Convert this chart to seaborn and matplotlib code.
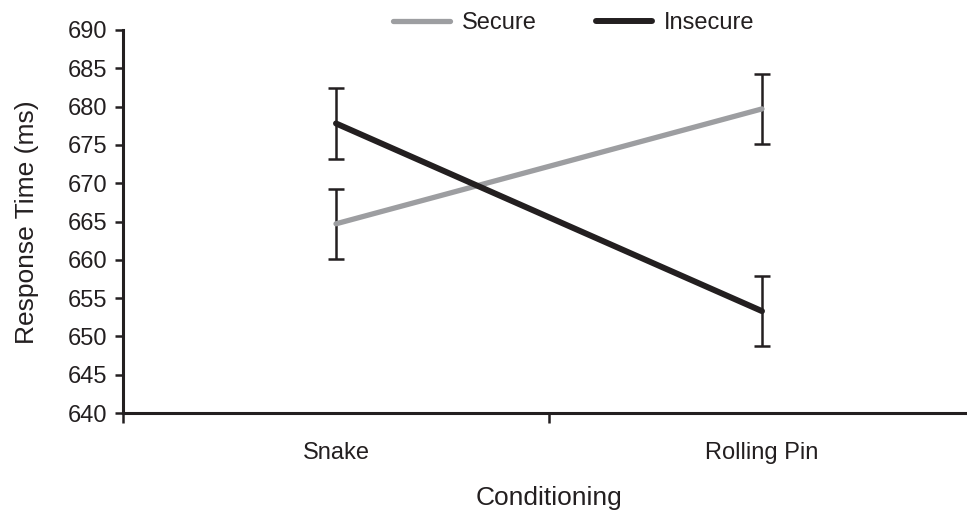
import matplotlib
matplotlib.use("Agg")
import matplotlib.pyplot as plt
import seaborn as sns
import pandas as pd
import numpy as np

categories = ["Snake", "Rolling Pin"]
groups = ["Secure", "Insecure"]
secure_means = [664.7, 679.7]
insecure_means = [677.8, 653.3]
secure_err = [4.6, 4.6]
insecure_err = [4.6, 4.6]
y_ticks = [640, 645, 650, 655, 660, 665, 670, 675, 680, 685, 690]

sns.set_style("white")
plt.rcParams["font.family"] = ["Liberation Sans", "DejaVu Sans"]

df = pd.DataFrame({
    "Conditioning": categories * 2,
    "RT": secure_means + insecure_means,
    "Group": [groups[0]] * 2 + [groups[1]] * 2,
})
pos = {c: i for i, c in enumerate(categories)}
df["x"] = df["Conditioning"].map(pos)

colors = {"Secure": "#9d9ea1", "Insecure": "#231f20"}
dark = "#231f20"

fig = plt.figure(figsize=(9.67, 5.14), dpi=100)
ax = fig.add_axes([123 / 967, 1 - 413 / 514, (975 - 123) / 967, (413 - 30) / 514])

for g, lw in [("Secure", 3.8), ("Insecure", 4.3)]:
    sub = df[df["Group"] == g]
    sns.lineplot(data=sub, x="x", y="RT", color=colors[g], lw=lw, ax=ax,
                 label=g, legend=False, solid_capstyle="round", zorder=3)

for means, errs in [(secure_means, secure_err), (insecure_means, insecure_err)]:
    ax.errorbar([pos[c] for c in categories], means, yerr=errs, fmt="none",
                ecolor=dark, elinewidth=1.8, capsize=6, capthick=1.8, zorder=2)

ax.set_xlim(-0.5, 1.5)
ax.set_ylim(640, 690)
ax.set_yticks(y_ticks)
ax.set_yticklabels([str(t) for t in y_ticks], fontsize=17, color="#231f20")
ax.set_xticks([-0.5, 0.5, 1.5])
ax.set_xticklabels(["", "", ""])
ax.set_xticks([0, 1], minor=True)
ax.set_xticklabels(categories, minor=True, fontsize=17, color="#231f20")
ax.tick_params(axis="x", which="major", direction="out", length=7, width=1.8, color=dark, bottom=True)
ax.tick_params(axis="x", which="minor", length=0, pad=21)
ax.tick_params(axis="y", direction="out", length=6, width=1.8, color=dark, left=True, pad=5)

for s in ["top", "right"]:
    ax.spines[s].set_visible(False)
for s in ["left", "bottom"]:
    ax.spines[s].set_color(dark)
    ax.spines[s].set_linewidth(2.2)

ax.set_xlabel("")
ax.set_ylabel("")
fig.text(27 / 967, 1 - 222 / 514, "Response Time (ms)", rotation=90, ha="center", va="center",
         fontsize=19, color="#231f20")
fig.text(549 / 967, 1 - 498 / 514, "Conditioning", ha="center", va="center",
         fontsize=19, color="#231f20")

handles, labels = ax.get_legend_handles_labels()
fig.legend(handles, labels, loc="center", bbox_to_anchor=(574 / 967, 1 - 23 / 514), ncol=2,
           frameon=False, fontsize=17, handlelength=2.4, columnspacing=2.5, handletextpad=0.5,
           labelcolor="#231f20")

fig.savefig("out.png", dpi=100)
